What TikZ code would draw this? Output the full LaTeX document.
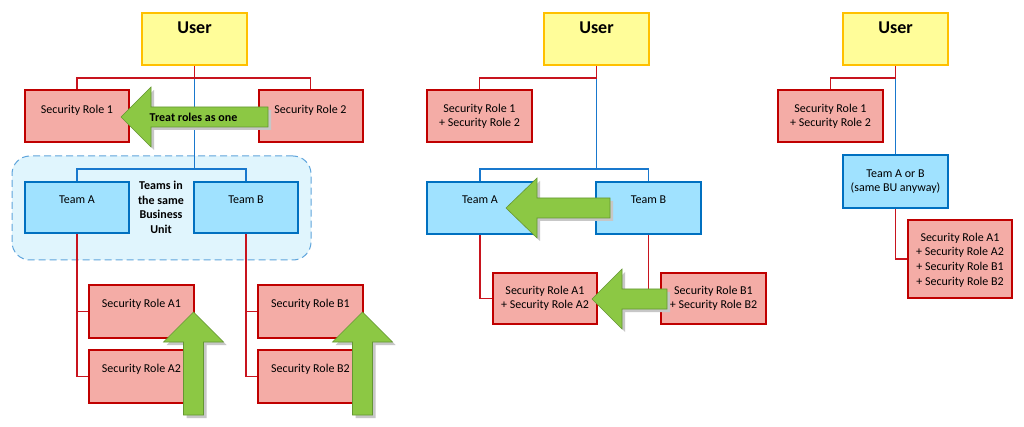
\documentclass[tikz,border=0pt]{standalone}
\usepackage{fontspec}
\setmainfont{Carlito}
\definecolor{userfill}{RGB}{255,253,153}
\definecolor{userdraw}{RGB}{255,192,0}
\definecolor{rolefill}{RGB}{244,172,166}
\definecolor{roledraw}{RGB}{192,0,0}
\definecolor{teamfill}{RGB}{160,226,255}
\definecolor{teamdraw}{RGB}{0,112,192}
\definecolor{redconn}{RGB}{200,20,30}
\definecolor{blueconn}{RGB}{25,120,205}
\definecolor{bufill}{RGB}{224,245,253}
\definecolor{budraw}{RGB}{95,165,220}
\definecolor{arrowgreen}{RGB}{140,200,68}
\definecolor{arrowedge}{RGB}{100,150,50}
\pgfdeclarelayer{bg}
\pgfdeclarelayer{conn}
\pgfsetlayers{bg,conn,main}
\begin{document}
\begin{tikzpicture}[x=1pt,y=-1pt,
  box/.style={rectangle,inner sep=0pt,outer sep=0pt,line width=2pt,minimum width=105pt,minimum height=52pt},
  userbox/.style={box,draw=userdraw,fill=userfill},
  rolebox/.style={box,draw=roledraw,fill=rolefill},
  teambox/.style={box,draw=teamdraw,fill=teamfill},
  lbl/.style={inner sep=0pt,align=center,font=\fontsize{12}{14.6}\selectfont},
  blbl/.style={lbl,font=\fontsize{12}{14.6}\selectfont\bfseries},
  ulbl/.style={inner sep=0pt,font=\fontsize{18}{22}\selectfont\bfseries},
  redline/.style={draw=redconn,line width=1.6pt},
  blueline/.style={draw=blueconn,line width=1.6pt},
  garrow/.style={fill=arrowgreen,draw=arrowedge,line width=0.6pt,line join=miter,
    preaction={fill=black!22,draw=none,transform canvas={xshift=3pt,yshift=-3pt}}}
]
\useasboundingbox (0,0) rectangle (1024,427);
\begin{pgfonlayer}{bg}
\fill[white] (0,0) rectangle (1024,427);
% business unit region
\node[draw=budraw,fill=bufill,dashed,dash pattern=on 7pt off 4pt,line width=1pt,
  rounded corners=18pt,minimum width=299pt,minimum height=104pt,inner sep=0pt] (bu) at (161.5,208) {};
\end{pgfonlayer}

% ---------- left panel ----------
\node[userbox] (u1) at (194.5,39) {};
\node[rolebox,minimum width=104pt] (r1) at (77,116.5) {};
\node[rolebox,minimum width=104pt] (r2) at (310.5,116.5) {};
\node[teambox,minimum width=104pt,minimum height=51pt] (ta) at (77,207.5) {};
\node[teambox,minimum width=104pt,minimum height=51pt] (tb) at (246,207.5) {};
\node[rolebox,minimum height=53pt] (a1) at (141.5,311.5) {};
\node[rolebox,minimum height=53pt] (a2) at (141.5,376.5) {};
\node[rolebox,minimum height=53pt] (b1) at (310.5,311.5) {};
\node[rolebox,minimum height=53pt] (b2) at (310.5,376.5) {};

\begin{pgfonlayer}{conn}
\draw[blueline] (u1.south) -- ++(0,104) -| (ta.north);
\draw[blueline] (u1.south) -- ++(0,104) -| (tb.north);
\draw[redline] (u1.south) -- ++(0,13) -| (r1.north);
\draw[redline] (u1.south) -- ++(0,13) -| (r2.north);
\draw[redline] (ta.south) |- (a1.west);
\draw[redline] (ta.south) |- (a2.west);
\draw[redline] (tb.south) |- (b1.west);
\draw[redline] (tb.south) |- (b2.west);
\end{pgfonlayer}

\node[ulbl] (u1t) at (194.5,28) {User};
\node[lbl] (r1t) at (77,110) {Security Role 1};
\node[lbl] (r2t) at (310.5,110) {Security Role 2};
\node[lbl] (tat) at (77,200) {Team A};
\node[lbl] (tbt) at (246,200) {Team B};
\node[blbl] (but) at (161,207.5) {Teams in\\the same\\Business\\Unit};
\node[lbl] (a1t) at (141.5,304) {Security Role A1};
\node[lbl] (a2t) at (141.5,369) {Security Role A2};
\node[lbl] (b1t) at (310.5,304) {Security Role B1};
\node[lbl] (b2t) at (310.5,369) {Security Role B2};

% green arrows, left panel
\draw[garrow] (121,117) -- (151,87) -- (151,107) -- (268,107) -- (268,127) -- (151,127) -- (151,147) -- cycle;
\node[blbl] (treat) at (193.5,117) {Treat roles as one};
\draw[garrow] (193.5,312) -- (223.5,342) -- (203.5,342) -- (203.5,415) -- (183.5,415) -- (183.5,342) -- (163.5,342) -- cycle;
\draw[garrow] (362.5,312) -- (392.5,342) -- (372.5,342) -- (372.5,415) -- (352.5,415) -- (352.5,342) -- (332.5,342) -- cycle;

% ---------- middle panel ----------
\node[userbox] (u2) at (596.5,39) {};
\node[rolebox] (rr) at (479.5,116.5) {};
\node[teambox,minimum width=106pt] (ta2) at (480,208) {};
\node[teambox] (tb2) at (648.5,208) {};
\node[rolebox,minimum width=104pt,minimum height=51pt] (ra2) at (545,298.5) {};
\node[rolebox,minimum height=51pt] (rb2) at (713.5,298.5) {};
\begin{pgfonlayer}{conn}
\draw[blueline] (u2.south) -- ++(0,104) -| (ta2.north);
\draw[blueline] (u2.south) -- ++(0,104) -| (tb2.north);
\draw[redline] (u2.south) -- ++(0,13) -| (rr.north);
\draw[redline] (ta2.south) |- (ra2.west);
\draw[redline] (tb2.south) |- (rb2.west);
\end{pgfonlayer}

\node[ulbl] (u2t) at (596.5,28) {User};
\node[lbl] (rrt) at (479.5,116.5) {Security Role 1\\+ Security Role 2};
\node[lbl] (ta2t) at (480,200) {Team A};
\node[lbl] (tb2t) at (648.5,200) {Team B};
\node[lbl] (ra2t) at (545,298.5) {Security Role A1\\+ Security Role A2};
\node[lbl] (rb2t) at (713.5,298.5) {Security Role B1\\+ Security Role B2};

\draw[garrow] (506,208) -- (537,178) -- (537,198) -- (610,198) -- (610,218) -- (537,218) -- (537,238) -- cycle;
\draw[garrow] (592,299) -- (622,269) -- (622,289) -- (667,289) -- (667,309) -- (622,309) -- (622,329) -- cycle;

% ---------- right panel ----------
\node[userbox] (u3) at (895.5,39) {};
\node[rolebox] (r3) at (830.5,116.5) {};
\node[teambox,minimum height=53pt] (t3) at (895.5,181.5) {};
\node[rolebox,minimum width=104pt,minimum height=78pt] (r4) at (960,259) {};
\begin{pgfonlayer}{conn}
\draw[blueline] (u3.south) -- (t3.north);
\draw[redline] (u3.south) -- ++(0,13) -| (r3.north);
\draw[redline] (t3.south) |- (r4.west);
\end{pgfonlayer}

\node[ulbl] (u3t) at (895.5,28) {User};
\node[lbl] (r3t) at (830.5,116.5) {Security Role 1\\+ Security Role 2};
\node[lbl] (t3t) at (895.5,181.5) {Team A or B\\(same BU anyway)};
\node[lbl] (r4t) at (960,260) {Security Role A1\\+ Security Role A2\\+ Security Role B1\\+ Security Role B2};
\end{tikzpicture}
\end{document}
